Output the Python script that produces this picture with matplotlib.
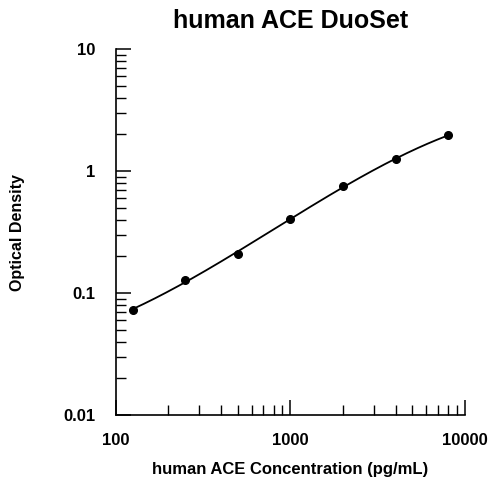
import numpy as np
import matplotlib.pyplot as plt
from matplotlib.ticker import LogLocator, NullFormatter, FixedLocator, FixedFormatter

# standard curve data
concentration = [125, 250, 500, 1000, 2000, 4000, 8000]
optical_density = [0.073, 0.129, 0.210, 0.404, 0.755, 1.25, 1.96]

x_ticks = [100, 1000, 10000]
x_tick_labels = ['100', '1000', '10000']
y_ticks = [0.01, 0.1, 1, 10]
y_tick_labels = ['0.01', '0.1', '1', '10']

plt.rcParams['font.family'] = ['Liberation Sans', 'DejaVu Sans']

fig = plt.figure(figsize=(4.89, 4.8), dpi=100)
ax = fig.add_axes([0.237, 0.135, 0.714, 0.763])

# smooth fitted curve (cubic fit in log-log space)
lx = np.log10(concentration)
ly = np.log10(optical_density)
coef = np.polyfit(lx, ly, 3)
xs = np.linspace(lx.min(), lx.max(), 200)
ax.plot(10 ** xs, 10 ** np.polyval(coef, xs), color='black', lw=1.3)
ax.plot(concentration, optical_density, 'o', color='black', ms=5.5)

ax.set_xscale('log')
ax.set_yscale('log')
ax.set_xlim(100, 10000)
ax.set_ylim(0.01, 10)

ax.xaxis.set_major_locator(FixedLocator(x_ticks))
ax.xaxis.set_major_formatter(FixedFormatter(x_tick_labels))
ax.yaxis.set_major_locator(FixedLocator(y_ticks))
ax.yaxis.set_major_formatter(FixedFormatter(y_tick_labels))
ax.xaxis.set_minor_locator(LogLocator(base=10, subs=np.arange(2, 10)))
ax.yaxis.set_minor_locator(LogLocator(base=10, subs=np.arange(2, 10)))
ax.xaxis.set_minor_formatter(NullFormatter())
ax.yaxis.set_minor_formatter(NullFormatter())

ax.spines['top'].set_visible(False)
ax.spines['right'].set_visible(False)
for s in ['left', 'bottom']:
    ax.spines[s].set_linewidth(1.2)

ax.tick_params(which='major', direction='in', length=11, width=1.1)
ax.tick_params(which='minor', direction='in', length=7, width=1.0)
ax.tick_params(axis='y', which='major', pad=15)
ax.tick_params(axis='x', which='major', pad=13)
for lab in ax.get_xticklabels() + ax.get_yticklabels():
    lab.set_fontweight('bold')
    lab.set_fontsize(12)

ax.set_xlabel('human ACE Concentration (pg/mL)', fontsize=12, fontweight='bold', labelpad=10)
ax.set_ylabel('Optical Density', fontsize=11.5, fontweight='bold', labelpad=27)
ax.set_title('human ACE DuoSet', fontsize=18, fontweight='bold', pad=15)

fig.savefig('out.png', dpi=100)
